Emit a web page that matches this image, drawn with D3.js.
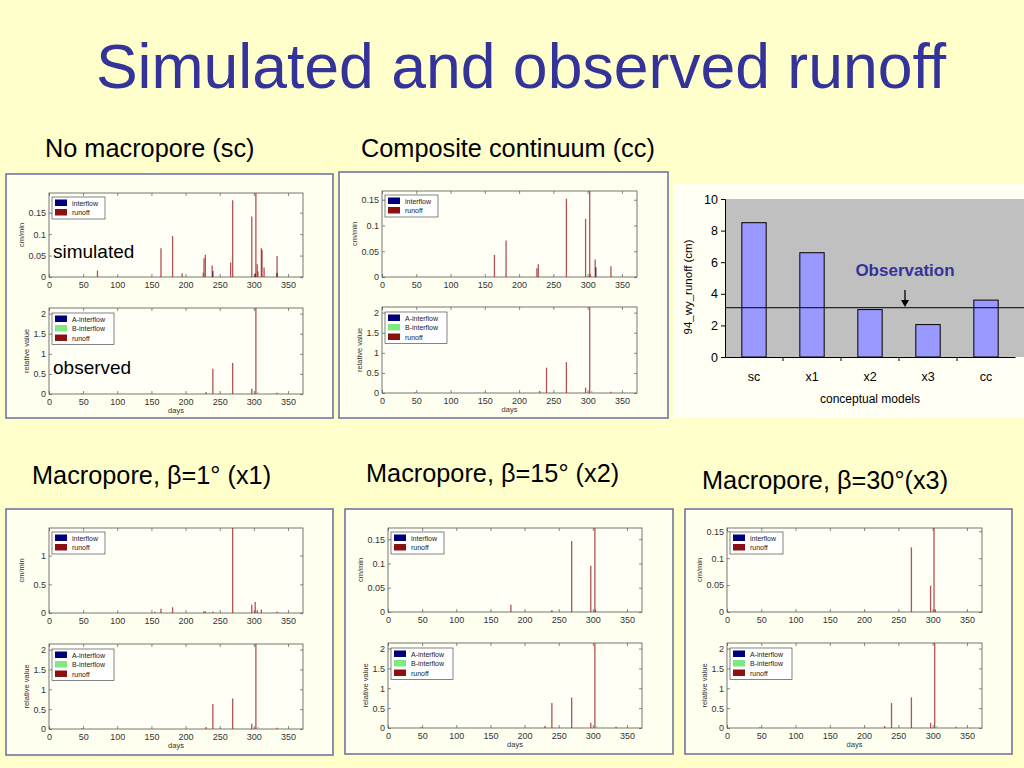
<!DOCTYPE html>
<html>
<head>
<meta charset="utf-8">
<script src="https://cdn.jsdelivr.net/npm/d3@7"></script>
<style>
	body { margin: 0; background: #ffffcc; }
	svg { display: block; font-family: "Liberation Sans", Arial, sans-serif; }
</style>
</head>
<body>
<div id="theChart"></div>
<script>
// ---- data ----
const dayTicks = [0, 50, 100, 150, 200, 250, 300, 350]
const bottomTicks = [0, 0.5, 1, 1.5, 2]

// simulated runoff spikes [day, cm/min]
const scRunoff = [[71, 0.015], [164, 0.067], [181, 0.096], [195, 0.009], [226, 0.01], [227, 0.044], [229, 0.052],
	[239, 0.027], [266, 0.034], [269, 0.179], [297, 0.141], [303, 0.2], [305, 0.03], [306, 0.013],
	[311, 0.067], [312, 0.063], [315, 0.022], [334, 0.049]]
const scInterflow = [[240, 0.014], [302, 0.008], [334, 0.01]]
const ccRunoff = [[164, 0.043], [181, 0.071], [226, 0.017], [228, 0.025], [269, 0.152], [297, 0.113],
	[303, 0.17], [304, 0.005], [311, 0.034], [334, 0.021]]
const ccInterflow = [[312, 0.019]]
const x1Runoff = [[155, 0.02], [164, 0.075], [181, 0.1], [227, 0.03], [229, 0.03], [240, 0.02], [269, 1.5],
	[297, 0.145], [302, 0.19], [305, 0.05], [311, 0.06], [334, 0.02]]
const x2Runoff = [[180, 0.015], [240, 0.004], [269, 0.146], [297, 0.095], [303, 0.175], [304, 0.005]]
const x3Runoff = [[269, 0.12], [297, 0.049], [302, 0.16], [304, 0.005]]

// observed (relative value), same in every panel
const obsRunoff = [[48, 0.02], [230, 0.05], [240, 0.63], [269, 0.77], [297, 0.13], [303, 2.2], [334, 0.03]]
const obsBInterflow = [[306, 0.05]]

// total runoff per conceptual model
const models = ["sc", "x1", "x2", "x3", "cc"]
const totals = [8.5, 6.6, 3.0, 2.05, 3.6]
const observedTotal = 3.12
const totalTicks = [0, 2, 4, 6, 8, 10]

// ---- layout ----
const w = 1024
const h = 768
const panels = [
	{ box: [6, 174, 327, 244], x0: 49, x1: 303, top: [193, 277], bot: [308, 394], yMax: 0.196,
		ticks: [0, 0.05, 0.1, 0.15], runoff: scRunoff, inter: scInterflow, tags: true },
	{ box: [339, 172, 329, 246], x0: 382, x1: 637, top: [191, 277], bot: [307, 393], yMax: 0.167,
		ticks: [0, 0.05, 0.1, 0.15], runoff: ccRunoff, inter: ccInterflow },
	{ box: [6, 509, 327, 246], x0: 49, x1: 303, top: [528, 613], bot: [644, 729], yMax: 1.48,
		ticks: [0, 0.5, 1], runoff: x1Runoff, inter: [] },
	{ box: [345, 509, 328, 245], x0: 388, x1: 642, top: [528, 612], bot: [643, 728], yMax: 0.173,
		ticks: [0, 0.05, 0.1, 0.15], runoff: x2Runoff, inter: [] },
	{ box: [685, 509, 327, 245], x0: 727, x1: 982, top: [528, 612], bot: [643, 728], yMax: 0.156,
		ticks: [0, 0.05, 0.1, 0.15], runoff: x3Runoff, inter: [] },
]
const subtitles = [
	{ text: "No macropore (sc)", x: 45, y: 157 },
	{ text: "Composite continuum (cc)", x: 361, y: 157 },
	{ text: "Macropore, β=1° (x1)", x: 32, y: 484 },
	{ text: "Macropore, β=15° (x2)", x: 366, y: 482 },
	{ text: "Macropore, β=30°(x3)", x: 702, y: 489 },
]

const svg = d3.select("#theChart").append("svg").attr("width", w).attr("height", h)
svg.append("rect").attr("width", w).attr("height", h).attr("fill", "#ffffcc")

svg.append("text")
	.attr("x", 521).attr("y", 88)
	.attr("text-anchor", "middle")
	.attr("fill", "#333399")
	.style("font-size", "62.5px")
	.text("Simulated and observed runoff")

svg.selectAll("text.sub")
	.data(subtitles)
	.enter()
	.append("text")
	.attr("class", "sub")
	.attr("x", d => d.x).attr("y", d => d.y)
	.attr("fill", "#000")
	.style("font-size", "25.3px")
	.text(d => d.text)

let clipId = 0

function drawAxes(g, xs, ys, ticks, yLabel, yLabelOff, showDays) {
	const [r0, r1] = xs.range()
	const [b, t] = ys.range()
	g.append("rect")
		.attr("x", r0).attr("y", t).attr("width", r1 - r0).attr("height", b - t)
		.attr("fill", "#fffff6").attr("stroke", "#555").attr("stroke-width", 0.8)

	const fmt = d3.format("~g")
	const ax = [
		[d3.axisBottom(xs).tickValues(dayTicks).tickFormat(fmt).tickPadding(5), b],
		[d3.axisTop(xs).tickValues(dayTicks).tickFormat(""), t],
	]
	ax.forEach(([a, y]) => {
		const s = g.append("g").attr("transform", `translate(0,${y})`)
			.call(a.tickSize(-3))
		s.select(".domain").remove()
	})
	const ay = [
		[d3.axisLeft(ys).tickValues(ticks).tickFormat(fmt).tickPadding(3), r0],
		[d3.axisRight(ys).tickValues(ticks).tickFormat(""), r1],
	]
	ay.forEach(([a, x]) => {
		const s = g.append("g").attr("transform", `translate(${x},0)`)
			.call(a.tickSize(-3))
		s.select(".domain").remove()
	})
	g.selectAll(".tick line").attr("stroke", "#555").attr("stroke-width", 0.7)
	g.selectAll(".tick text").attr("fill", "#333").style("font-size", "9px")

	g.append("text")
		.attr("transform", `translate(${r0 + yLabelOff},${(t + b) / 2}) rotate(-90)`)
		.attr("text-anchor", "middle")
		.attr("fill", "#333")
		.style("font-size", "7.5px")
		.text(yLabel)
	if (showDays) {
		g.append("text")
			.attr("x", (r0 + r1) / 2).attr("y", b + 19)
			.attr("text-anchor", "middle")
			.attr("fill", "#333")
			.style("font-size", "7.5px")
			.text("days")
	}
}

function drawSpikes(g, xs, ys, data, color) {
	const id = "clip" + clipId++
	const [r0, r1] = xs.range()
	const [b, t] = ys.range()
	g.append("clipPath").attr("id", id)
		.append("rect").attr("x", r0).attr("y", t).attr("width", r1 - r0).attr("height", b - t)
	g.append("g").attr("clip-path", `url(#${id})`)
		.selectAll("line")
		.data(data)
		.enter()
		.append("line")
		.attr("x1", d => xs(d[0])).attr("x2", d => xs(d[0]))
		.attr("y1", ys(0)).attr("y2", d => ys(d[1]))
		.attr("stroke", color)
		.attr("stroke-width", 1.3)
		.attr("opacity", 0.8)
}

function drawLegend(g, x, y, items, width) {
	const lg = g.append("g").attr("transform", `translate(${x},${y})`)
	lg.append("rect")
		.attr("width", width).attr("height", items.length * 9.5 + 3)
		.attr("fill", "#fff").attr("stroke", "#333").attr("stroke-width", 0.6)
	lg.selectAll("rect.sw")
		.data(items)
		.enter()
		.append("rect")
		.attr("class", "sw")
		.attr("x", 3).attr("y", (d, i) => 2.5 + i * 9.5)
		.attr("width", 12).attr("height", 6.5)
		.attr("fill", d => d.color)
	lg.selectAll("text")
		.data(items)
		.enter()
		.append("text")
		.attr("x", 20).attr("y", (d, i) => 8.5 + i * 9.5)
		.attr("fill", "#222")
		.style("font-size", "7px")
		.text(d => d.text)
}

const navy = "#00007a"
const darkRed = "#8b1010"
const lightGreen = "#80e880"
const spikeRed = "#a02a2a"

panels.forEach(p => {
	const g = svg.append("g")
	g.append("rect")
		.attr("x", p.box[0]).attr("y", p.box[1]).attr("width", p.box[2]).attr("height", p.box[3])
		.attr("fill", "#fffff0").attr("stroke", "#6b6b9e").attr("stroke-width", 1.5)

	const xs = d3.scaleLinear().domain([0, 372]).range([p.x0, p.x1])
	const ysTop = d3.scaleLinear().domain([0, p.yMax]).range([p.top[1], p.top[0]])
	const ysBot = d3.scaleLinear().domain([0, 2.14]).range([p.bot[1], p.bot[0]])

	drawAxes(g, xs, ysTop, p.ticks, "cm/min", -25, false)
	drawSpikes(g, xs, ysTop, p.runoff, spikeRed)
	drawSpikes(g, xs, ysTop, p.inter, "#301030")
	drawLegend(g, p.x0 + 3, p.top[0] + 4, [
		{ text: "interflow", color: navy },
		{ text: "runoff", color: darkRed },
	], 53)

	drawAxes(g, xs, ysBot, bottomTicks, "relative value", -20, true)
	drawSpikes(g, xs, ysBot, obsRunoff, spikeRed)
	drawSpikes(g, xs, ysBot, obsBInterflow, "#a0b890")
	drawLegend(g, p.x0 + 3, p.bot[0] + 5, [
		{ text: "A-interflow", color: navy },
		{ text: "B-interflow", color: lightGreen },
		{ text: "runoff", color: darkRed },
	], 62)

	if (p.tags) {
		g.append("text").attr("x", 53).attr("y", 258)
			.style("font-size", "19px").attr("fill", "#000").text("simulated")
		g.append("text").attr("x", 53).attr("y", 374)
			.style("font-size", "19px").attr("fill", "#000").text("observed")
	}
})

// ---- total runoff bar chart ----
const bc = svg.append("g")
bc.append("rect").attr("x", 673).attr("y", 184).attr("width", 351).attr("height", 234)
	.attr("fill", "#fffff4")

const barX = d3.scaleBand().domain(models).range([725, 1015]).paddingInner(0.58).paddingOuter(0.29)
const barY = d3.scaleLinear().domain([0, 10]).range([357, 199])

bc.append("rect")
	.attr("x", 725).attr("y", barY(10)).attr("width", 1024 - 725).attr("height", barY(0) - barY(10))
	.attr("fill", "#c0c0c0")

bc.selectAll("rect.bar")
	.data(models)
	.enter()
	.append("rect")
	.attr("class", "bar")
	.attr("x", d => barX(d))
	.attr("y", (d, i) => barY(totals[i]))
	.attr("width", barX.bandwidth())
	.attr("height", (d, i) => barY(0) - barY(totals[i]))
	.attr("fill", "#9999ff")
	.attr("stroke", "#000")
	.attr("stroke-width", 1)

bc.append("line")
	.attr("x1", 725).attr("x2", 1024)
	.attr("y1", barY(observedTotal)).attr("y2", barY(observedTotal))
	.attr("stroke", "#000").attr("stroke-width", 1)

const yAx = bc.append("g").attr("transform", "translate(725,0)")
	.call(d3.axisLeft(barY).tickValues(totalTicks).tickSize(4).tickPadding(3))
yAx.select(".domain").attr("stroke", "#000")
yAx.selectAll("text").style("font-size", "12.5px").attr("fill", "#000")

const xAx = bc.append("g").attr("transform", `translate(0,${barY(0)})`)
	.call(d3.axisBottom(barX).tickSize(0).tickPadding(15))
xAx.select(".domain").attr("stroke", "#000")
xAx.selectAll("text").style("font-size", "12.5px").attr("fill", "#000")
// category separators
bc.selectAll("line.sep")
	.data(models.slice(1))
	.enter()
	.append("line")
	.attr("class", "sep")
	.attr("x1", d => barX(d) - barX.step() * barX.paddingInner() / 2)
	.attr("x2", d => barX(d) - barX.step() * barX.paddingInner() / 2)
	.attr("y1", barY(0)).attr("y2", barY(0) + 4)
	.attr("stroke", "#000")

bc.append("text")
	.attr("x", 870).attr("y", 403)
	.attr("text-anchor", "middle")
	.style("font-size", "12px")
	.text("conceptual models")

bc.append("text")
	.attr("transform", "translate(692,287) rotate(-90)")
	.attr("text-anchor", "middle")
	.style("font-size", "11.5px")
	.text("94_wy_runoff (cm)")

// observation annotation
const obsX = barX("x3") - barX.step() * barX.paddingInner() / 2 + 6
bc.append("text")
	.attr("x", obsX).attr("y", 276)
	.attr("text-anchor", "middle")
	.attr("fill", "#333399")
	.style("font-size", "17px")
	.style("font-weight", "bold")
	.text("Observation")
bc.append("line")
	.attr("x1", obsX).attr("x2", obsX)
	.attr("y1", 290).attr("y2", 301)
	.attr("stroke", "#000").attr("stroke-width", 1.3)
bc.append("path")
	.attr("d", `M${obsX - 4},300 L${obsX + 4},300 L${obsX},307 Z`)
	.attr("fill", "#000")
</script>
</body>
</html>
